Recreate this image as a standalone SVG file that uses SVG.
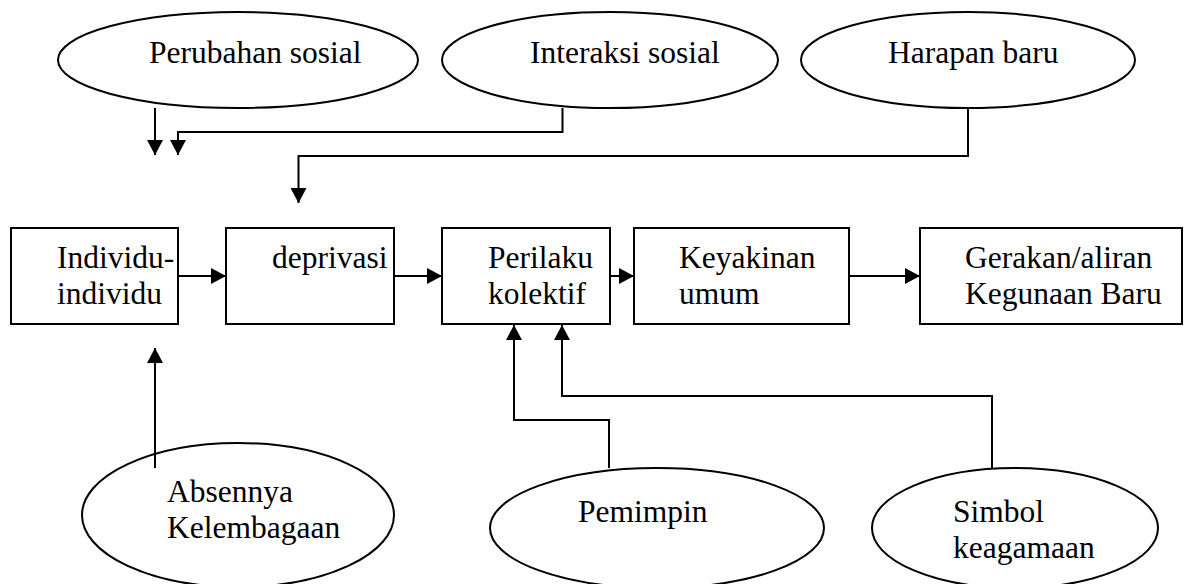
<svg xmlns="http://www.w3.org/2000/svg" width="1193" height="584" viewBox="0 0 1193 584">
<style>
.n{fill:#fff;stroke:#000;stroke-width:2}
.t{font-family:'Liberation Serif','Times New Roman','DejaVu Serif',serif;font-size:31.5px;fill:#000}
.c{fill:none;stroke:#000;stroke-width:2}
</style>
<defs>
<marker id="ah" markerUnits="userSpaceOnUse" markerWidth="16" markerHeight="16" refX="15" refY="8" orient="auto" viewBox="0 0 16 16">
<path d="M0,0 L15,8 L0,16 z" fill="#000"/>
</marker>
</defs>
<rect width="1193" height="584" fill="#fff"/>
<g id="perubahan"><ellipse class="n" cx="238" cy="60" rx="180" ry="48"/><text class="t" font-family="Liberation Serif, serif" x="149" y="63">Perubahan sosial</text></g>
<g id="interaksi"><ellipse class="n" cx="610" cy="60" rx="168" ry="48"/><text class="t" x="530" y="63">Interaksi sosial</text></g>
<g id="harapan"><ellipse class="n" cx="968" cy="60" rx="167" ry="48"/><text class="t" x="888" y="63">Harapan baru</text></g>
<g id="individu"><rect class="n" x="11" y="228" width="167" height="96"/><text class="t" x="57" y="268">Individu-</text><text class="t" x="57" y="304">individu</text></g>
<g id="deprivasi"><rect class="n" x="226" y="228" width="168" height="96"/><text class="t" x="272" y="268">deprivasi</text></g>
<g id="perilaku"><rect class="n" x="442" y="228" width="168" height="96"/><text class="t" x="488" y="268">Perilaku</text><text class="t" x="488" y="304">kolektif</text></g>
<g id="keyakinan"><rect class="n" x="634" y="228" width="215" height="96"/><text class="t" x="679" y="268">Keyakinan</text><text class="t" x="679" y="304">umum</text></g>
<g id="gerakan"><rect class="n" x="920" y="228" width="262" height="96"/><text class="t" x="965" y="268">Gerakan/aliran</text><text class="t" x="965" y="304">Kegunaan Baru</text></g>
<g id="absennya"><ellipse class="n" cx="238" cy="515" rx="156" ry="72"/><text class="t" x="167" y="502">Absennya</text><text class="t" x="167" y="538">Kelembagaan</text></g>
<g id="pemimpin"><ellipse class="n" cx="657" cy="528" rx="167" ry="60"/><text class="t" x="578" y="522">Pemimpin</text></g>
<g id="simbol"><ellipse class="n" cx="1015" cy="528" rx="143" ry="60"/><text class="t" x="953" y="522">Simbol</text><text class="t" x="953" y="558">keagamaan</text></g>
<g id="connectors">
<path class="c" d="M155,108 V155" marker-end="url(#ah)"/>
<path class="c" d="M562.5,108 V132 H178 V155" marker-end="url(#ah)"/>
<path class="c" d="M968,108 V156 H298.5 V203" marker-end="url(#ah)"/>
<path class="c" d="M178,276 H226" marker-end="url(#ah)"/>
<path class="c" d="M394,276 H442" marker-end="url(#ah)"/>
<path class="c" d="M610,276 H634" marker-end="url(#ah)"/>
<path class="c" d="M849,276 H920" marker-end="url(#ah)"/>
<path class="c" d="M155,468 V348" marker-end="url(#ah)"/>
<path class="c" d="M609,468 V420 H514 V325" marker-end="url(#ah)"/>
<path class="c" d="M992,468 V396 H562 V325" marker-end="url(#ah)"/>
</g>
</svg>
